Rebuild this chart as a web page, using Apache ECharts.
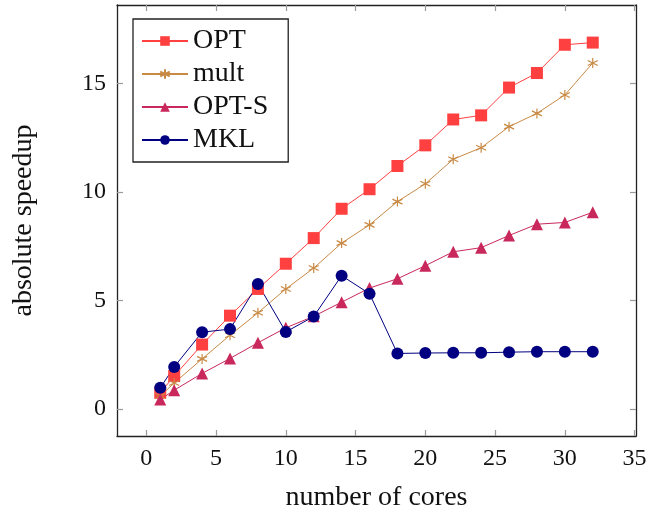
<!DOCTYPE html>
<html>
<head>
<meta charset="utf-8">
<script src="https://cdn.jsdelivr.net/npm/echarts@6/dist/echarts.min.js"></script>
<style>
  html, body { margin: 0; padding: 0; background: #fff; }
  #chart { width: 649px; height: 512px; }
</style>
</head>
<body>
<div id="chart"></div>
<script>
// number of cores
const cores = [1, 2, 4, 6, 8, 10, 12, 14, 16, 18, 20, 22, 24, 26, 28, 30, 32];
// absolute speedup per variant
const optValues = [0.75, 1.52, 2.97, 4.30, 5.53, 6.69, 7.87, 9.22, 10.12, 11.19, 12.14, 13.33, 13.52, 14.80, 15.47, 16.77, 16.87];
const multValues = [0.6, 1.2, 2.31, 3.40, 4.43, 5.53, 6.49, 7.64, 8.48, 9.55, 10.37, 11.50, 12.03, 13.00, 13.61, 14.46, 15.93];
const optSValues = [0.44, 0.87, 1.64, 2.33, 3.05, 3.74, 4.27, 4.92, 5.57, 6.00, 6.60, 7.24, 7.43, 7.99, 8.51, 8.59, 9.06];
const mklValues = [0.98, 1.94, 3.54, 3.68, 5.76, 3.55, 4.26, 6.14, 5.31, 2.56, 2.58, 2.59, 2.59, 2.62, 2.64, 2.64, 2.64];
// tick labels
const xTicks = [0, 5, 10, 15, 20, 25, 30, 35];
const yTicks = [0, 5, 10, 15];

const FONT = "'Liberation Serif', 'DejaVu Serif', serif";
const asterisk = "path://M0,-5L0,5M-4.33,-2.5L4.33,2.5M-4.33,2.5L4.33,-2.5";

const pairs = (vals) => cores.map((c, i) => [c, vals[i]]);

const makeSeries = (name, vals, color, symbol, size, extra) => Object.assign({
  name: name,
  type: "line",
  data: pairs(vals),
  symbol: symbol,
  symbolSize: size,
  showSymbol: true,
  lineStyle: { color: color, width: 1 },
  itemStyle: { color: color },
  emphasis: { disabled: true },
  animation: false,
}, extra || {});

const tickStyle = { show: true, inside: true, length: 6, lineStyle: { color: "#9a9a9a", width: 1.2 } };
const axisLine = { show: true, onZero: false, lineStyle: { color: "#222", width: 1.3 } };

const chart = echarts.init(document.getElementById("chart"), null, { renderer: "canvas" });
chart.setOption({
  backgroundColor: "#fff",
  animation: false,
  grid: { left: 117, right: 13, top: 5, bottom: 76, show: false, outerBoundsMode: "none" },
  legend: {
    orient: "vertical",
    left: 133,
    top: 19,
    padding: [8, 20, 8, 8],
    itemWidth: 46,
    itemHeight: 12,
    itemGap: 5,
    borderColor: "#222",
    borderWidth: 1.3,
    backgroundColor: "#fff",
    textStyle: { fontFamily: FONT, fontSize: 28, color: "#111", lineHeight: 28 },
    data: ["OPT", "mult", "OPT-S", "MKL"],
  },
  xAxis: [
    {
      type: "value",
      min: -2.1,
      max: 35.1,
      name: "number of cores",
      nameLocation: "middle",
      nameGap: 48,
      nameTextStyle: { fontFamily: FONT, fontSize: 28, color: "#111" },
      axisLine: axisLine,
      axisTick: Object.assign({ customValues: xTicks }, tickStyle),
      axisLabel: { customValues: xTicks, fontFamily: FONT, fontSize: 24, color: "#111", margin: 11 },
      splitLine: { show: false },
    },
    {
      type: "value",
      position: "top",
      min: -2.1,
      max: 35.1,
      axisLine: axisLine,
      axisTick: Object.assign({ customValues: xTicks }, tickStyle),
      axisLabel: { show: false },
      splitLine: { show: false },
    },
  ],
  yAxis: [
    {
      type: "value",
      min: -1.24,
      max: 18.6,
      name: "absolute speedup",
      nameLocation: "middle",
      nameGap: 79,
      nameTextStyle: { fontFamily: FONT, fontSize: 28, color: "#111" },
      axisLine: axisLine,
      axisTick: Object.assign({ customValues: yTicks }, tickStyle),
      axisLabel: { customValues: yTicks, fontFamily: FONT, fontSize: 24, color: "#111", margin: 11 },
      splitLine: { show: false },
    },
    {
      type: "value",
      position: "right",
      min: -1.24,
      max: 18.6,
      axisLine: axisLine,
      axisTick: Object.assign({ customValues: yTicks }, tickStyle),
      axisLabel: { show: false },
      splitLine: { show: false },
    },
  ],
  series: [
    makeSeries("OPT", optValues, "#ff4040", "rect", 12),
    makeSeries("mult", multValues, "#c88a45", asterisk, 10, {
      itemStyle: { color: "transparent", borderColor: "#c88a45", borderWidth: 1.2 },
    }),
    makeSeries("OPT-S", optSValues, "#c8285c", "triangle", 12),
    makeSeries("MKL", mklValues, "#000080", "circle", 12),
  ],
});
</script>
</body>
</html>
